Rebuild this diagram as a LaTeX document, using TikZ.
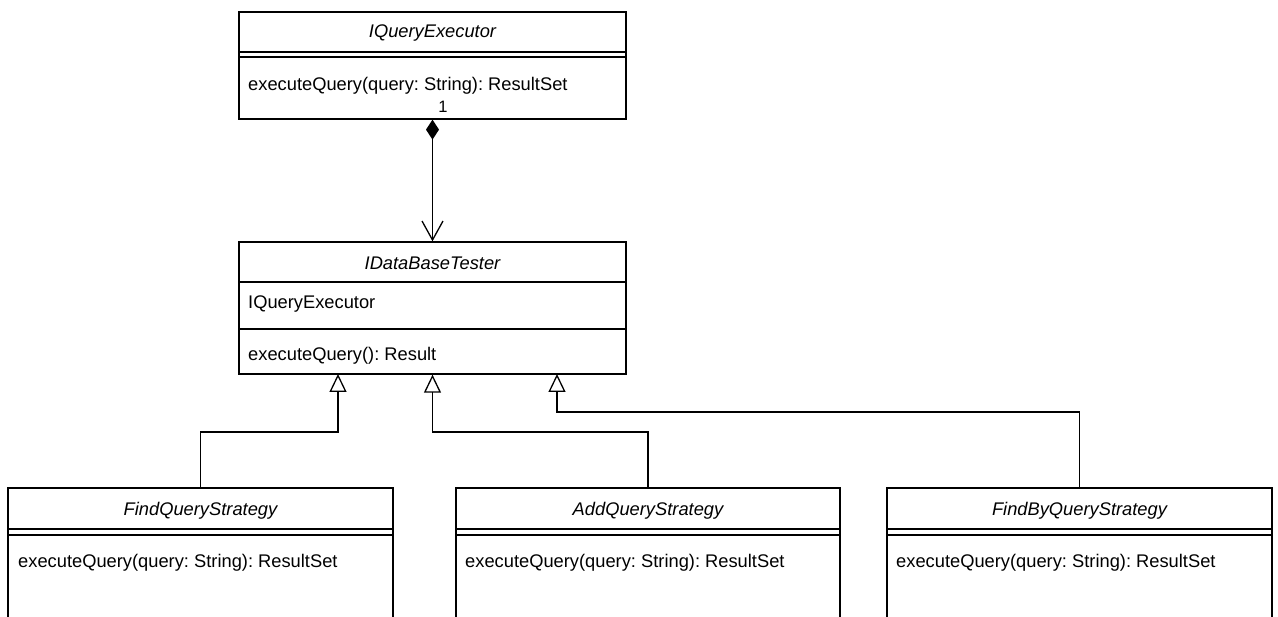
\documentclass[tikz,border=0pt]{standalone}
\usepackage{fontspec}
\setmainfont{Liberation Sans}
\usetikzlibrary{arrows.meta}
\frenchspacing
\tikzset{
  cls/.style={draw, line width=1.3pt, rectangle, inner sep=0pt, fill=white},
  sepline/.style={line width=1.3pt},
  title/.style={font=\fontsize{18.3}{22}\selectfont\itshape, inner sep=0pt},
  member/.style={font=\fontsize{18.3}{22}\selectfont, inner sep=0pt, anchor=west},
  mult/.style={font=\fontsize{16.5}{19}\selectfont, inner sep=0pt},
  gen/.style={line width=1.4pt, -{Triangle[open, length=18pt, width=17pt, fill=white, line width=1.3pt]}},
  comp/.style={line width=1.4pt, {Diamond[length=20pt, width=13pt]}-{Straight Barb[length=19pt, width=21pt, line width=1.3pt]}}
}
\begin{document}
\begin{tikzpicture}[x=1pt, y=-1pt]
\clip (0,0) rectangle (1278,617);
\fill[white] (0,0) rectangle (1278,617);

% IQueryExecutor
\node[cls, minimum width=387pt, minimum height=107pt] (qe) at (432.5,65.5) {};
\draw[sepline] (239,52) -- (626,52);
\draw[sepline] (239,57) -- (626,57);
\node[title] (qeT) at (432.5,33) {IQueryExecutor};
\node[member] (qeM) at (248,86) {executeQuery(query: String): ResultSet};

% IDataBaseTester
\node[cls, minimum width=387pt, minimum height=132pt] (idb) at (432.5,308) {};
\draw[sepline] (239,282) -- (626,282);
\draw[sepline] (239,329) -- (626,329);
\node[title] (idbT) at (432.5,263) {IDataBaseTester};
\node[member] (idbA) at (248,304) {IQueryExecutor};
\node[member] (idbM) at (248,356) {executeQuery(): Result};

% Strategies
\node[cls, minimum width=385pt, minimum height=180pt] (f1) at (200.5,578) {};
\draw[sepline] (8,529) -- (393,529);
\draw[sepline] (8,535) -- (393,535);
\node[title] (f1T) at (200.5,511) {FindQueryStrategy};
\node[member] (f1M) at (18,563) {executeQuery(query: String): ResultSet};

\node[cls, minimum width=384pt, minimum height=180pt] (f2) at (648,578) {};
\draw[sepline] (456,529) -- (840,529);
\draw[sepline] (456,535) -- (840,535);
\node[title] (f2T) at (648,511) {AddQueryStrategy};
\node[member] (f2M) at (465,563) {executeQuery(query: String): ResultSet};

\node[cls, minimum width=385pt, minimum height=180pt] (f3) at (1079.5,578) {};
\draw[sepline] (887,529) -- (1272,529);
\draw[sepline] (887,535) -- (1272,535);
\node[title] (f3T) at (1079.5,511) {FindByQueryStrategy};
\node[member] (f3M) at (896,563) {executeQuery(query: String): ResultSet};

% composition
\draw[comp] (qe.south) -- (idb.north);
\node[mult] (m1) at (443,107) {1};

% generalisations
\coordinate (t1) at (338,374);
\coordinate (t3) at (557,374);
\draw[gen] (f1.north) -- (200.5,432) -- (338,432) -- (t1);
\draw[gen] (f2.north) -- (648,432) -- (432.5,432) -- (idb.south);
\draw[gen] (f3.north) -- (1079.5,412) -- (557,412) -- (t3);
\end{tikzpicture}
\end{document}
